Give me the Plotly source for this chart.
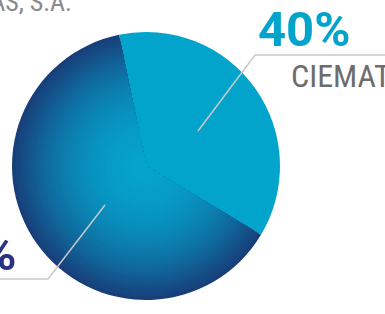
import plotly.graph_objects as go

# ---- data ----
labels = ["CIEMAT", "EMPRESAS, S.A."]
shares = [36.8, 63.2]          # slice sizes as drawn
label_pcts = ["40%", "60%"]    # percentages printed on the chart

W, H = 385, 314
CX, CY, R = 146, 166, 134     # pie centre / radius in pixels
START_ANGLE = -11.6            # first slice starts left of 12 o'clock

CYAN = "#02a4cc"
C_IN = (5, 163, 205)
C_OUT = (24, 61, 120)


def px(x):
    return x / W


def py(y):
    return 1 - y / H


def grad(t):
    t = t ** 2
    return "rgb(%d,%d,%d)" % tuple(round(a + (b - a) * t) for a, b in zip(C_IN, C_OUT))


fig = go.Figure()
N = 40
for k in range(N):
    r = R * (1 - k / N)
    tmid = (r - R / N / 2) / R if k > 0 else 0.99
    tmid = max(tmid, 0)
    fig.add_trace(go.Pie(
        labels=labels, values=shares, sort=False, direction="clockwise",
        rotation=START_ANGLE,
        domain=dict(x=[px(CX - r), px(CX + r)], y=[py(CY + r), py(CY - r)]),
        marker=dict(colors=[CYAN if k == 0 else "rgba(0,0,0,0)", grad(tmid)],
                    line=dict(width=0)),
        textinfo="none", hoverinfo="skip", showlegend=False,
    ))

line_style = dict(color="#c8c8c8", width=1.5)
shapes = [
    dict(type="path", xref="paper", yref="paper",
         path="M %f,%f L %f,%f L %f,%f" % (px(198), py(131), px(255), py(55), px(390), py(55)),
         line=line_style),
    dict(type="path", xref="paper", yref="paper",
         path="M %f,%f L %f,%f L %f,%f" % (px(105), py(205), px(48), py(279), px(-10), py(279)),
         line=line_style),
]

bold = "Roboto, Arial, sans-serif"
narrow = "Liberation Sans Narrow, Roboto Condensed, Arial Narrow, sans-serif"
annotations = [
    dict(text="<b>%s</b>" % label_pcts[0], x=px(256), y=py(30), xanchor="left", yanchor="middle",
         font=dict(family=bold, size=49, color=CYAN)),
    dict(text=labels[0], x=px(289), y=py(76), xanchor="left", yanchor="middle",
         font=dict(family=narrow, size=32, color="#6d6d6d")),
    dict(text="<b>%s</b>" % label_pcts[1], x=px(18), y=py(253), xanchor="right", yanchor="middle",
         font=dict(family=bold, size=49, color="#2b3388")),
    dict(text=labels[1], x=px(74), y=py(2), xanchor="right", yanchor="middle",
         font=dict(family=narrow, size=26, color="#8a8a8a")),
]
for a in annotations:
    a.update(xref="paper", yref="paper", showarrow=False)

fig.update_layout(width=W, height=H, margin=dict(l=0, r=0, t=0, b=0),
                  paper_bgcolor="white", plot_bgcolor="white",
                  shapes=shapes, annotations=annotations)
fig.write_html("out.html", config={"displayModeBar": False},
               post_script="document.body.style.margin='0';document.body.style.overflow='hidden';")
